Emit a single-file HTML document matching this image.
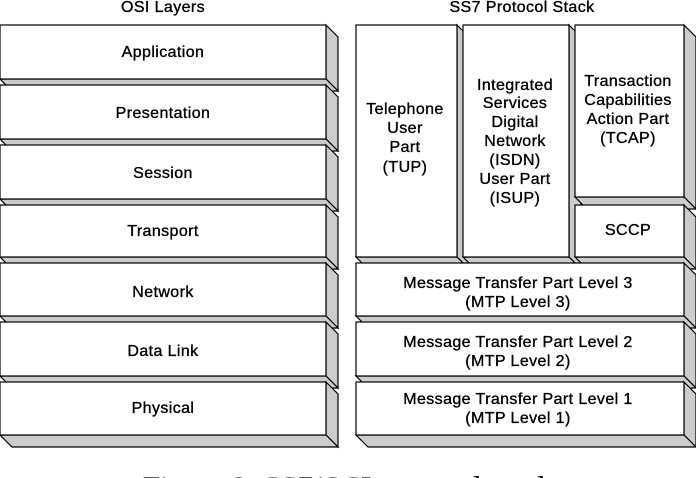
<!DOCTYPE html>
<html><head><meta charset="utf-8"><style>
html,body{margin:0;padding:0;background:#fff;width:696px;height:478px;overflow:hidden}
svg text{font-family:"Liberation Sans",sans-serif;font-size:16px;letter-spacing:0.4px;fill:#000;stroke:#000;stroke-width:0.35;text-anchor:middle}
</style></head><body>
<svg width="696" height="478" viewBox="0 0 696 478" xmlns="http://www.w3.org/2000/svg" style="display:block">
<defs><clipPath id="cp"><rect x="0" y="0" width="696" height="478"/></clipPath></defs>
<g stroke="#000" stroke-width="1.2" stroke-linejoin="miter" id="boxes"></g>
<g id="labels">
<text x="163" y="12">OSI Layers</text>
<text x="522" y="12">SS7 Protocol Stack</text>
<text x="163" y="57">Application</text>
<text x="163" y="118">Presentation</text>
<text x="163" y="178">Session</text>
<text x="163" y="236">Transport</text>
<text x="163" y="297">Network</text>
<text x="163" y="356">Data Link</text>
<text x="163" y="413">Physical</text>
<text x="405" y="114">Telephone</text>
<text x="405" y="133">User</text>
<text x="405" y="152">Part</text>
<text x="405" y="172">(TUP)</text>
<text x="515" y="90">Integrated</text>
<text x="515" y="108">Services</text>
<text x="515" y="127">Digital</text>
<text x="515" y="146">Network</text>
<text x="515" y="165">(ISDN)</text>
<text x="515" y="184">User Part</text>
<text x="515" y="203">(ISUP)</text>
<text x="628" y="86">Transaction</text>
<text x="628" y="105">Capabilities</text>
<text x="628" y="124">Action Part</text>
<text x="628" y="143">(TCAP)</text>
<text x="628" y="235">SCCP</text>
<text x="518" y="288">Message Transfer Part Level 3</text>
<text x="518" y="307">(MTP Level 3)</text>
<text x="518" y="347">Message Transfer Part Level 2</text>
<text x="518" y="366">(MTP Level 2)</text>
<text x="518" y="404">Message Transfer Part Level 1</text>
<text x="518" y="423">(MTP Level 1)</text>
<g clip-path="url(#cp)"><text x="348" y="494" style="font-family:'Liberation Serif',serif;font-size:25px;letter-spacing:0;stroke-width:0.3" textLength="410" lengthAdjust="spacingAndGlyphs">Figure 8: SS7/OSI protocol stack</text></g>
</g>
<script>
(function(){
var g=document.getElementById('boxes'),d=12,ns='http://www.w3.org/2000/svg';
function poly(pts,fill){var p=document.createElementNS(ns,'polygon');p.setAttribute('points',pts.map(function(a){return a.join(',')}).join(' '));p.setAttribute('fill',fill);g.appendChild(p);}
function box(x,y,w,h){
poly([[x+w,y],[x+w+d,y+d],[x+w+d,y+h+d],[x+w,y+h]],'#cccccc');
poly([[x,y+h],[x+w,y+h],[x+w+d,y+h+d],[x+d,y+h+d]],'#cccccc');
var r=document.createElementNS(ns,'rect');r.setAttribute('x',x);r.setAttribute('y',y);r.setAttribute('width',w);r.setAttribute('height',h);r.setAttribute('fill','#fff');g.appendChild(r);}
var rows=[[25,54],[85,54],[145,54],[205,52],[263,53],[322,54],[382,53]];
rows.forEach(function(r){box(0,r[0],326,r[1]);});
box(356,25,101,232);
box(463,25,106,232);
box(575,25,109,172);
box(575,205,109,52);
box(356,263,328,53);
box(356,322,328,54);
box(356,382,328,53);
})();
</script>
</svg>
</body></html>
